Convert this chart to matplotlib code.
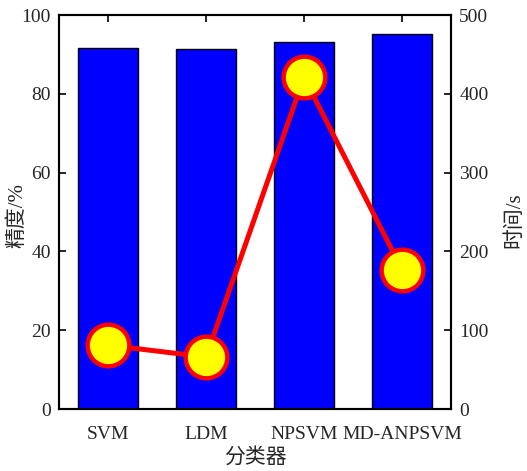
import matplotlib
matplotlib.use("Agg")
import matplotlib.pyplot as plt
import numpy as np

plt.rcParams['font.family'] = ['Liberation Serif', 'Noto Sans CJK SC']
plt.rcParams['mathtext.fontset'] = 'stix'

categories = ['SVM', 'LDM', 'NPSVM', 'MD-ANPSVM']
accuracy = [91.5, 91.4, 93.1, 95.2]
time_s = [81, 66, 421, 177]

fig = plt.figure(figsize=(5.27, 4.71), dpi=100)
ax = fig.add_axes([59/527, 1-409/471, (451-59)/527, (409-15)/471])
x = np.arange(1, len(categories)+1)
ax.bar(x, accuracy, width=0.61, color='#0000FF', edgecolor='black', linewidth=1.0, zorder=2)
ax.set_xlim(0.5, 4.5)
ax.set_ylim(0, 100)
ax.set_yticks(np.arange(0, 101, 20))
ax.set_xticks(x)
ax.set_xticklabels(categories)
ax.tick_params(direction='in', top=True, labelsize=14, length=5, width=1.2, colors='black', labelcolor='#262626')
ax.tick_params(axis='x', pad=12)
ax.tick_params(axis='y', pad=6)
ax.set_ylabel('精度/%', fontsize=15, color='#262626')
ax.yaxis.set_label_coords(-0.082, 0.49)
ax.set_xlabel('分类器', fontsize=15, color='#262626')
ax.xaxis.set_label_coords(0.5, -0.098)
for s in ax.spines.values():
    s.set_linewidth(1.5)

ax2 = ax.twinx()
ax2.plot(x, time_s, color='#FF0000', linewidth=3.6, marker='o', markersize=30,
         markerfacecolor='#FFFF00', markeredgecolor='#FF0000', markeredgewidth=3.2, zorder=3)
ax2.set_ylim(0, 500)
ax2.set_yticks(np.arange(0, 501, 100))
ax2.tick_params(direction='in', labelsize=14, length=5, width=1.2, pad=6, labelcolor='#262626')
ax2.set_ylabel('时间/s', fontsize=15, color='#262626')
ax2.yaxis.set_label_coords(1.138, 0.48)
for s in ax2.spines.values():
    s.set_linewidth(1.5)

fig.savefig('out.png', dpi=100)
